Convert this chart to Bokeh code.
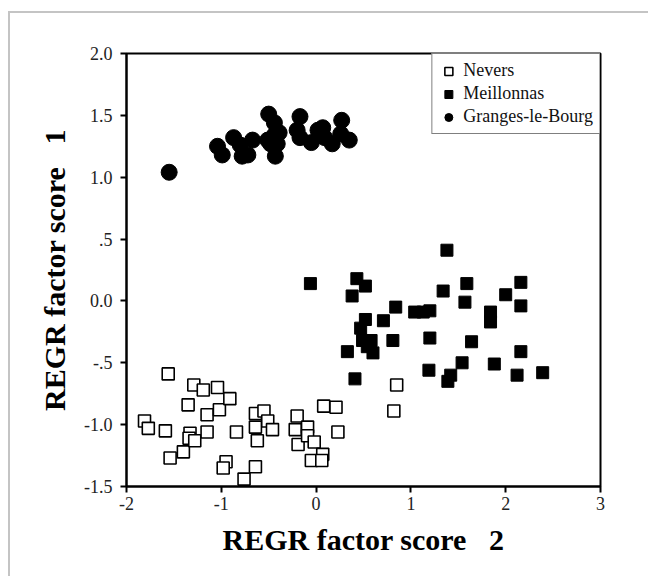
from bokeh.plotting import figure
from bokeh.models import Range1d, FixedTicker, Legend, LegendItem
from bokeh.embed import file_html
from bokeh.resources import INLINE

# ---- data ----
nevers_x = [-1.56, -1.81, -1.77, -1.59, -1.54, -1.40, -1.35, -1.29, -1.19, -1.33,
            -1.34, -1.28, -1.15, -1.15, -1.04, -1.02, -0.91, -0.84, -0.95, -0.98,
            -0.76, -0.64, -0.55, -0.64, -0.51, -0.46, -0.62, -0.64, -0.20, -0.22,
            -0.19, -0.09, -0.09, -0.02, -0.05, 0.07, 0.06, 0.08, 0.21, 0.23,
            0.85, 0.82]
nevers_y = [-0.59, -0.97, -1.03, -1.05, -1.27, -1.22, -0.84, -0.68, -0.72, -1.07,
            -1.11, -1.13, -0.92, -1.06, -0.70, -0.88, -0.79, -1.06, -1.30, -1.35,
            -1.44, -0.91, -0.89, -1.02, -0.97, -1.04, -1.13, -1.34, -0.93, -1.04,
            -1.16, -1.02, -1.09, -1.14, -1.29, -1.24, -1.29, -0.85, -0.86, -1.06,
            -0.68, -0.89]

meil_x = [1.38, -0.06, 0.43, 0.52, 0.38, 1.34, 1.59, 1.57, 2.00, 2.16,
          2.16, 0.84, 1.04, 1.13, 1.20, 1.84, 1.84, 0.52, 0.71, 0.47,
          0.49, 0.58, 0.54, 0.60, 0.81, 1.20, 1.64, 0.33, 2.16, 0.41,
          1.19, 1.42, 1.39, 1.54, 1.88, 2.12, 2.39]
meil_y = [0.41, 0.14, 0.18, 0.12, 0.04, 0.08, 0.14, -0.01, 0.05, 0.15,
          -0.04, -0.05, -0.09, -0.09, -0.08, -0.09, -0.17, -0.15, -0.16, -0.22,
          -0.32, -0.32, -0.37, -0.42, -0.32, -0.30, -0.33, -0.41, -0.41, -0.63,
          -0.56, -0.60, -0.65, -0.50, -0.51, -0.60, -0.58]

gran_x = [-1.55, -1.04, -0.99, -0.87, -0.80, -0.78, -0.72, -0.67, -0.50, -0.44,
          -0.51, -0.48, -0.39, -0.41, -0.43, -0.44, -0.17, -0.20, -0.17, -0.05,
          0.02, 0.07, 0.09, 0.17, 0.27, 0.26, 0.35]
gran_y = [1.04, 1.25, 1.18, 1.32, 1.26, 1.17, 1.18, 1.30, 1.51, 1.44,
          1.30, 1.27, 1.36, 1.27, 1.17, 1.34, 1.49, 1.38, 1.32, 1.28,
          1.38, 1.40, 1.32, 1.27, 1.46, 1.35, 1.30]

series_names = ["Nevers", "Meillonnas", "Granges-le-Bourg"]

x_ticks = [-2, -1, 0, 1, 2, 3]
x_tick_labels = ["-2", "-1", "0", "1", "2", "3"]
y_ticks = [-1.5, -1.0, -0.5, 0.0, 0.5, 1.0, 1.5, 2.0]
y_tick_labels = ["-1.5", "-1.0", "-.5", "0.0", ".5", "1.0", "1.5", "2.0"]

x_title = "REGR factor score\u00a0\u00a0\u00a02"
y_title = "REGR factor score\u00a0\u00a0\u00a01"

FONT = "Liberation Serif"

p = figure(width=640, height=565, output_backend="svg", toolbar_location=None,
           x_range=Range1d(-2, 3), y_range=Range1d(-1.5, 2.0),
           min_border_left=116, min_border_right=50, min_border_top=40,
           min_border_bottom=92)
p.styles = {"border-left": "2px solid #c4c4c4", "border-top": "2px solid #c4c4c4",
            "margin-top": "11px", "margin-left": "8px"}

p.grid.visible = False
p.outline_line_color = "black"
p.outline_line_width = 2
p.background_fill_color = "white"
p.border_fill_color = "white"

for ax in (p.xaxis[0], p.yaxis[0]):
    ax.axis_line_width = 2
    ax.axis_line_color = "black"
    ax.major_tick_line_width = 2
    ax.major_tick_line_color = "black"
    ax.major_tick_out = 6
    ax.major_tick_in = 0
    ax.minor_tick_line_color = None
    ax.major_label_text_font = FONT
    ax.major_label_text_font_size = "18px"
    ax.major_label_text_color = "#222222"
    ax.axis_label_text_font = FONT
    ax.axis_label_text_font_style = "bold"
    ax.axis_label_text_font_size = "30px"
    ax.axis_label_text_color = "black"

p.xaxis[0].ticker = FixedTicker(ticks=x_ticks)
p.xaxis[0].major_label_overrides = {t: l for t, l in zip(x_ticks, x_tick_labels)}
p.xaxis[0].major_label_standoff = 4
p.xaxis[0].axis_label = x_title
p.xaxis[0].axis_label_standoff = 10

p.yaxis[0].ticker = FixedTicker(ticks=y_ticks)
p.yaxis[0].major_label_overrides = {t: l for t, l in zip(y_ticks, y_tick_labels)}
p.yaxis[0].major_label_standoff = 8
p.yaxis[0].axis_label = y_title
p.yaxis[0].axis_label_standoff = 10

r1 = p.scatter(nevers_x, nevers_y, marker="square", size=12,
               fill_color="white", line_color="black", line_width=1.6)
r2 = p.scatter(meil_x, meil_y, marker="square", size=12,
               fill_color="black", line_color="black", line_width=1)
r3 = p.scatter(gran_x, gran_y, marker="circle", size=16,
               fill_color="black", line_color="black", line_width=1)

legend = Legend(items=[LegendItem(label=series_names[0], renderers=[r1]),
                       LegendItem(label=series_names[1], renderers=[r2]),
                       LegendItem(label=series_names[2], renderers=[r3])],
                location="top_right")
legend.margin = 0
legend.padding = 6
legend.spacing = 2
legend.label_height = 20
legend.glyph_height = 20
legend.glyph_width = 20
legend.label_standoff = 5
legend.label_text_font = FONT
legend.label_text_font_size = "18px"
legend.label_text_color = "#111111"
legend.border_line_color = "black"
legend.border_line_width = 1.5
legend.background_fill_color = "white"
legend.background_fill_alpha = 1.0
p.add_layout(legend, "center")

open("out.html", "w").write(file_html(p, INLINE))
